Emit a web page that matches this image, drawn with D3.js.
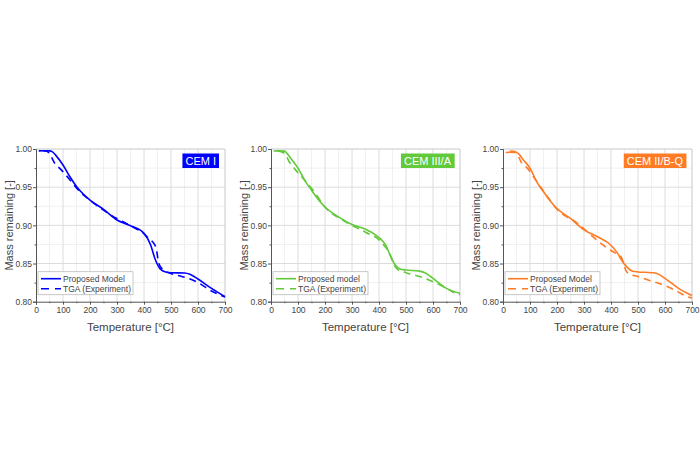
<!DOCTYPE html>
<html>
<head>
<meta charset="utf-8">
<script src="https://cdn.jsdelivr.net/npm/d3@7"></script>
<style>
  body { margin: 0; background: #fff; }
  svg { font-family: "Liberation Sans", Arial, sans-serif; }
</style>
</head>
<body>
<div id="chart"></div>
<script>
// Temperatures [°C] and mass remaining
var tModel = [10, 25, 50, 60, 75, 100, 125, 150, 175, 200, 250, 300, 350, 400, 425, 440, 460, 480, 500, 550, 570, 600, 650, 700];
var cem1Model = [0.9975, 0.9977, 0.9975, 0.9965, 0.991, 0.979, 0.964, 0.951, 0.941, 0.933, 0.921, 0.907, 0.8995, 0.8895, 0.874, 0.857, 0.843, 0.839, 0.838, 0.8375, 0.836, 0.8297, 0.8175, 0.8066];
var cem3Model = [0.9974, 0.9975, 0.9972, 0.994, 0.987, 0.975, 0.959, 0.946, 0.934, 0.924, 0.911, 0.901, 0.8948, 0.884, 0.874, 0.862, 0.848, 0.8425, 0.8415, 0.840, 0.838, 0.8306, 0.8175, 0.811];
var cem2Model = [0.9955, 0.9957, 0.9955, 0.993, 0.986, 0.975, 0.957, 0.944, 0.932, 0.922, 0.909, 0.894, 0.885, 0.874, 0.863, 0.854, 0.845, 0.840, 0.839, 0.838, 0.837, 0.8306, 0.8175, 0.808];

var tTga = [25, 40, 50, 70, 90, 120, 160, 200, 275, 350, 400, 420, 435, 445, 455, 470, 500, 540, 560, 600, 650, 680, 700];
var cem1Tga = [0.9978, 0.997, 0.994, 0.981, 0.974, 0.962, 0.945, 0.933, 0.914, 0.8995, 0.889, 0.882, 0.877, 0.870, 0.850, 0.842, 0.837, 0.833, 0.831, 0.825, 0.814, 0.809, 0.806];
var cem3Tga = [0.9975, 0.996, 0.994, 0.982, 0.973, 0.961, 0.944, 0.924, 0.905, 0.891, 0.881, 0.873, 0.866, 0.858, 0.849, 0.842, 0.838, 0.834, 0.832, 0.826, 0.8175, 0.8115, 0.8095];
var cem2Tga = [0.9974, 0.997, 0.995, 0.981, 0.975, 0.960, 0.940, 0.921, 0.903, 0.880, 0.867, 0.863, 0.860, 0.852, 0.841, 0.836, 0.833, 0.828, 0.826, 0.821, 0.8125, 0.807, 0.805];

var panelNames = ["CEM I", "CEM III/A", "CEM II/B-Q"];
var modelLabels = ["Proposed Model", "Proposed model", "Proposed Model"];
var tgaLabel = "TGA (Experiment)";
var colors = ["#0000ff", "#62c93a", "#ff7b24"];
var xTicks = [0, 100, 200, 300, 400, 500, 600, 700];
var yTicks = [0.80, 0.85, 0.90, 0.95, 1.00];

var models = [cem1Model, cem3Model, cem2Model];
var tgas = [cem1Tga, cem3Tga, cem2Tga];

var W = 700, H = 469;
var svg = d3.select("#chart").append("svg")
    .attr("width", W)
    .attr("height", H);

var panelX = [36, 271, 503],
    plotTop = 149,
    pw = 189,
    ph = 152.7;

var x = d3.scaleLinear().domain([0, 700]).range([0, pw]);
var y = d3.scaleLinear().domain([0.80, 1.00]).range([ph, 0]);

panelX.forEach(function(px, i) {
  var g = svg.append("g")
      .attr("transform", "translate(" + px + "," + plotTop + ")");

  // minor and major grid
  var minorX = d3.range(50, 700, 100), minorY = [0.825, 0.875, 0.925, 0.975];
  g.selectAll(".gxm").data(minorX).enter().append("line")
      .attr("x1", d => x(d)).attr("x2", d => x(d))
      .attr("y1", 0).attr("y2", ph)
      .attr("stroke", "#f0f0f0").attr("stroke-width", 1);
  g.selectAll(".gym").data(minorY).enter().append("line")
      .attr("y1", d => y(d)).attr("y2", d => y(d))
      .attr("x1", 0).attr("x2", pw)
      .attr("stroke", "#f0f0f0").attr("stroke-width", 1);
  g.selectAll(".gx").data(xTicks.slice(1, -1)).enter().append("line")
      .attr("x1", d => x(d)).attr("x2", d => x(d))
      .attr("y1", 0).attr("y2", ph)
      .attr("stroke", "#dcdcdc").attr("stroke-width", 1);
  g.selectAll(".gy").data(yTicks.slice(1, -1)).enter().append("line")
      .attr("y1", d => y(d)).attr("y2", d => y(d))
      .attr("x1", 0).attr("x2", pw)
      .attr("stroke", "#dcdcdc").attr("stroke-width", 1);

  // frame top/right
  g.append("path")
      .attr("d", "M0,0H" + pw + "V" + ph)
      .attr("fill", "none").attr("stroke", "#c8c8c8");

  // axes
  var xa = g.append("g")
      .attr("transform", "translate(0," + ph + ")")
      .call(d3.axisBottom(x).tickValues(xTicks).tickSize(3).tickFormat(d3.format("d")));
  g.append("g")
      .attr("transform", "translate(0," + ph + ")")
      .call(d3.axisBottom(x).tickValues(minorX).tickSize(1.5).tickFormat(""))
      .select(".domain").remove();
  var ya = g.append("g")
      .call(d3.axisLeft(y).tickValues(yTicks).tickSize(3).tickFormat(d3.format(".2f")));
  g.append("g")
      .call(d3.axisLeft(y).tickValues(minorY).tickSize(1.5).tickFormat(""))
      .select(".domain").remove();
  g.selectAll(".domain").attr("stroke", "#555");
  g.selectAll(".tick line").attr("stroke", "#555");
  g.selectAll(".tick text").attr("fill", "#444").style("font-size", "8.5px")
      .style("font-family", "'Liberation Sans', Arial, sans-serif");
  xa.selectAll(".tick text").attr("dy", "0.71em").attr("y", 5);
  ya.selectAll(".tick text").attr("x", -4);

  // curves
  var line = d3.line()
      .x(function(d) { return x(d[0]); })
      .y(function(d) { return y(d[1]); })
      .curve(d3.curveMonotoneX);

  g.append("path")
      .datum(d3.zip(tTga, tgas[i]))
      .attr("d", line)
      .attr("fill", "none")
      .attr("stroke", colors[i])
      .attr("stroke-width", 1.6)
      .attr("stroke-dasharray", "7,5");

  g.append("path")
      .datum(d3.zip(tModel, models[i]))
      .attr("d", line)
      .attr("fill", "none")
      .attr("stroke", colors[i])
      .attr("stroke-width", 1.6);

  // legend
  var lg = g.append("g").attr("transform", "translate(2," + (ph - 30) + ")");
  lg.append("rect")
      .attr("width", 95).attr("height", 23)
      .attr("fill", "#fff").attr("stroke", "#bbb").attr("stroke-width", 0.8);
  lg.append("line").attr("x1", 3).attr("x2", 23).attr("y1", 7).attr("y2", 7)
      .attr("stroke", colors[i]).attr("stroke-width", 1.6);
  lg.append("line").attr("x1", 3).attr("x2", 23).attr("y1", 17).attr("y2", 17)
      .attr("stroke", colors[i]).attr("stroke-width", 1.6).attr("stroke-dasharray", "8,6");
  lg.append("text").attr("x", 25).attr("y", 10).text(modelLabels[i])
      .attr("fill", "#444").style("font-size", "8.5px");
  lg.append("text").attr("x", 25).attr("y", 20).text(tgaLabel)
      .attr("fill", "#444").style("font-size", "8.5px");

  // panel tag
  var tagRect = g.append("rect").attr("fill", colors[i]);
  var tag = g.append("text")
      .attr("x", 180).attr("y", 15.5)
      .attr("text-anchor", "end")
      .attr("fill", "#fff")
      .style("font-size", "11px")
      .text(panelNames[i]);
  var bb = tag.node().getBBox();
  tagRect
      .attr("x", bb.x - 3).attr("y", 4.5)
      .attr("width", bb.width + 6).attr("height", 14.5);

  // axis titles
  g.append("text")
      .attr("transform", "rotate(-90)")
      .attr("x", -ph / 2).attr("y", -23)
      .attr("text-anchor", "middle")
      .attr("fill", "#444")
      .style("font-size", "11px")
      .text("Mass remaining [-]");
  g.append("text")
      .attr("x", pw / 2).attr("y", ph + 29)
      .attr("text-anchor", "middle")
      .attr("fill", "#444")
      .style("font-size", "11.5px")
      .text("Temperature [°C]");
});
</script>
</body>
</html>
